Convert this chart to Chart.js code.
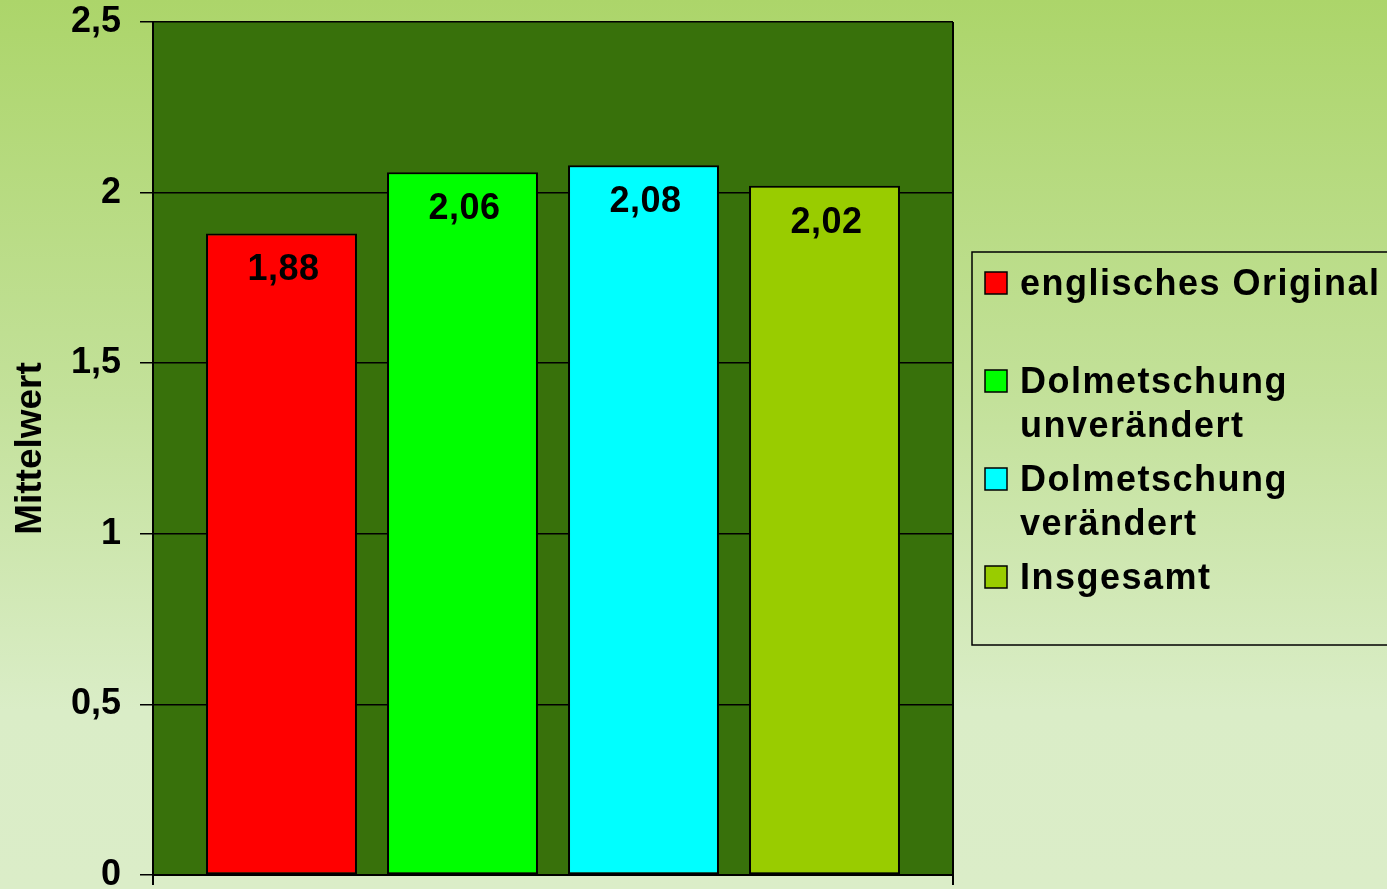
<!DOCTYPE html>
<html>
<head>
<meta charset="utf-8">
<script src="https://cdn.jsdelivr.net/npm/chart.js@4.4.1/dist/chart.umd.min.js"></script>
<style>
    html, body {
        margin: 0;
        padding: 0;
        width: 1387px;
        height: 889px;
        overflow: hidden;
    }
    body {
        background: linear-gradient(to bottom, #acd56a 0%, #c3e19a 45%, #daedc7 80%, #dbedc8 100%);
    }
</style>
</head>
<body>
<canvas id="myChart" width="1387" height="889"></canvas>
<script>
const categories = [''];
const seriesLabels = ['englisches Original', 'Dolmetschung unverändert', 'Dolmetschung verändert', 'Insgesamt'];
const seriesValues = [1.88, 2.06, 2.08, 2.02];
const seriesColors = ['#ff0000', '#00ff00', '#00ffff', '#99cc00'];
const yTicks = [0, 0.5, 1, 1.5, 2, 2.5];

const FONT = '"Liberation Sans", Arial, sans-serif';

function fmt(v) {
    return String(v).replace('.', ',');
}

// dark green plot area
const plotBg = {
    id: 'plotBg',
    beforeDraw(chart) {
        const a = chart.chartArea;
        const ctx = chart.ctx;
        ctx.save();
        ctx.fillStyle = '#38710b';
        ctx.fillRect(a.left, a.top, a.right - a.left, a.bottom - a.top);
        ctx.restore();
    }
};

// value labels inside the top of each bar
const valueLabels = {
    id: 'valueLabels',
    afterDatasetsDraw(chart) {
        const ctx = chart.ctx;
        ctx.save();
        ctx.font = 'bold 36px ' + FONT;
        ctx.letterSpacing = '0.5px';
        ctx.fillStyle = '#000';
        ctx.textAlign = 'center';
        ctx.textBaseline = 'middle';
        chart.data.datasets.forEach((ds, i) => {
            chart.getDatasetMeta(i).data.forEach((bar, j) => {
                ctx.fillText(fmt(ds.data[j]), bar.x + 2, bar.y + 37);
            });
        });
        ctx.restore();
    }
};

// boxed legend on the right, labels wrapped
const boxLegend = {
    id: 'boxLegend',
    afterDraw(chart) {
        const ctx = chart.ctx;
        ctx.save();
        ctx.strokeStyle = '#000';
        ctx.lineWidth = 1.5;
        ctx.strokeRect(972, 252, 430, 393);
        ctx.font = 'bold 36px ' + FONT;
        ctx.letterSpacing = '1.5px';
        ctx.textBaseline = 'middle';
        ctx.textAlign = 'left';
        chart.data.datasets.forEach((ds, i) => {
            const y = 283 + i * 98;
            ctx.fillStyle = ds.backgroundColor;
            ctx.fillRect(985, y - 11, 22, 22);
            ctx.lineWidth = 1.5;
            ctx.strokeRect(985, y - 11, 22, 22);
            // wrap words
            const words = ds.label.split(' ');
            let lines = [], cur = '';
            words.forEach(w => {
                const t = cur ? cur + ' ' + w : w;
                if (ctx.measureText(t).width > 380 && cur) {
                    lines.push(cur);
                    cur = w;
                } else {
                    cur = t;
                }
            });
            lines.push(cur);
            ctx.fillStyle = '#000';
            lines.forEach((l, k) => ctx.fillText(l, 1020, y + 2 + k * 44));
        });
        ctx.restore();
    }
};

const ctx = document.getElementById('myChart').getContext('2d');
const myChart = new Chart(ctx, {
    type: 'bar',
    data: {
        labels: categories,
        datasets: seriesLabels.map((label, i) => ({
            label: label,
            data: [seriesValues[i]],
            backgroundColor: seriesColors[i],
            borderColor: '#000',
            borderWidth: 2,
            borderSkipped: false,
            categoryPercentage: 0.905,
            barPercentage: 0.834
        }))
    },
    options: {
        responsive: false,
        devicePixelRatio: 1,
        animation: false,
        layout: {
            padding: { left: 0, right: 434, top: 22, bottom: 4 }
        },
        plugins: {
            legend: { display: false },
            tooltip: { enabled: false }
        },
        scales: {
            x: {
                offset: true,
                grid: {
                    offset: true,
                    color: '#000',
                    lineWidth: 2,
                    tickLength: 10
                },
                border: { color: '#000', width: 2 },
                ticks: { display: false }
            },
            y: {
                min: 0,
                max: 2.5,
                afterBuildTicks: (s) => {
                    s.ticks = yTicks.map(v => ({ value: v }));
                },
                afterFit: (s) => {
                    s.width = 153;
                    s.paddingTop = 0;
                    s.paddingBottom = 0;
                },
                grid: {
                    color: '#000',
                    lineWidth: 1.5,
                    tickLength: 13
                },
                border: { color: '#000', width: 2 },
                ticks: {
                    padding: 19,
                    color: '#000',
                    font: { family: FONT, size: 36, weight: 'bold' },
                    callback: (v) => fmt(v)
                },
                title: {
                    display: true,
                    text: 'Mittelwert',
                    color: '#000',
                    padding: { top: 9, bottom: 0 },
                    font: { family: FONT, size: 37, weight: 'bold' }
                }
            }
        }
    },
    plugins: [plotBg, valueLabels, boxLegend]
});
</script>
</body>
</html>
